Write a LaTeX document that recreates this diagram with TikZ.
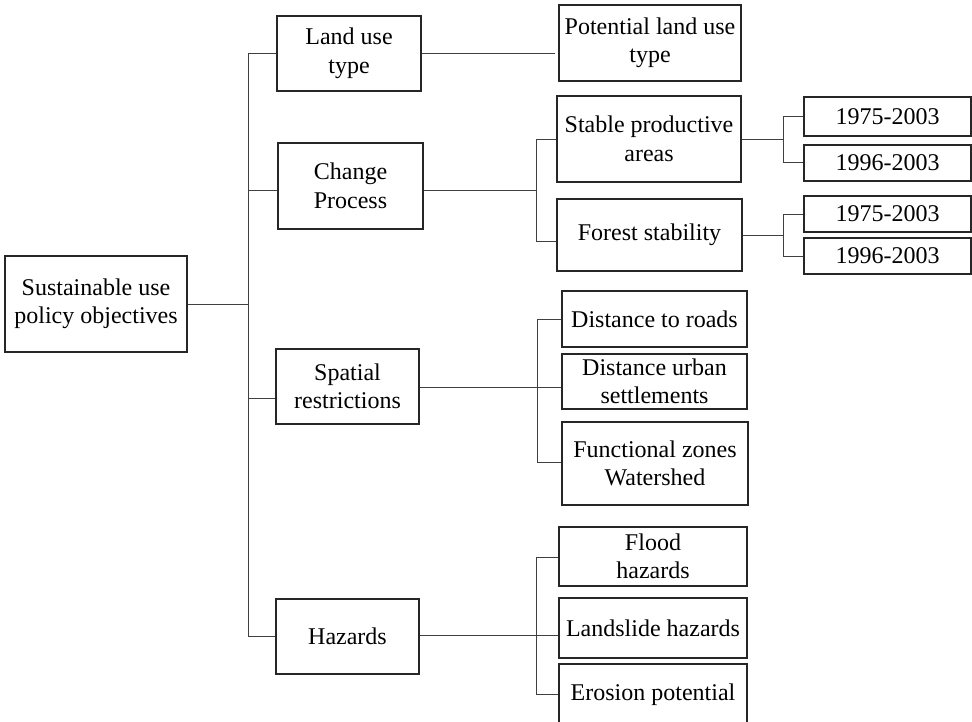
\documentclass[tikz,border=0pt]{standalone}
\usepackage{fontspec}
\setmainfont{Liberation Serif}
\begin{document}
\begin{tikzpicture}[x=1pt,y=-1pt,
  box/.style={draw=black!85, line width=1.1pt, inner sep=2pt, align=center,
    font=\fontsize{24}{28.5}\selectfont},
  link/.style={draw=black!75, line width=1pt}]
% canvas
\fill[white] (0,0) rectangle (972,721);
\useasboundingbox (0,0) rectangle (972,721);

% level 0
\node[box, minimum width=182pt, minimum height=96pt] (root) at (96,304) {Sustainable use\\policy objectives};

% level 1
\node[box, minimum width=144pt, minimum height=75pt] (lut) at (349,53.5) {Land use\\type};
\node[box, minimum width=145pt, minimum height=86pt] (chg) at (350.5,186) {Change\\Process};
\node[box, minimum width=143pt, minimum height=75pt] (spa) at (347.5,386.5) {Spatial\\restrictions};
\node[box, minimum width=143pt, minimum height=75pt] (haz) at (347.5,636.5) {Hazards};

% level 2
\node[box, minimum width=182pt, minimum height=76pt] (pot) at (650,43) {Potential land use\\type};
\node[box, minimum width=184pt, minimum height=86pt] (stab) at (649,139) {Stable productive\\areas};
\node[box, minimum width=185pt, minimum height=72pt] (fst) at (649.5,235) {Forest stability};
\node[box, minimum width=185pt, minimum height=56pt] (road) at (654.5,319) {Distance to roads};
\node[box, minimum width=185pt, minimum height=55pt] (urb) at (654.5,381.5) {Distance urban\\settlements};
\node[box, minimum width=186pt, minimum height=83pt] (fun) at (655,463.5) {Functional zones\\Watershed};
\node[box, minimum width=188pt, minimum height=59pt] (fld) at (653,556.5) {Flood\\hazards};
\node[box, minimum width=188pt, minimum height=60pt] (lsl) at (653,628) {Landslide hazards};
\node[box, minimum width=188pt, minimum height=62pt] (ero) at (653,695) {Erosion potential};

% level 3
\node[box, minimum width=167pt, minimum height=39pt] (sa) at (887.5,116.5) {1975-2003};
\node[box, minimum width=167pt, minimum height=36pt] (sb) at (887.5,163) {1996-2003};
\node[box, minimum width=167pt, minimum height=36pt] (fa) at (887.5,214) {1975-2003};
\node[box, minimum width=167pt, minimum height=36pt] (fb) at (887.5,256) {1996-2003};

% junction points of the bracket connectors
\coordinate (j0) at (248,304);
\coordinate (j0a) at (248,53);
\coordinate (j0b) at (248,190);
\coordinate (j0c) at (248,398);
\coordinate (j0d) at (248,636);
\coordinate (lutEnd) at (555,53);
\coordinate (jc) at (536,190);
\coordinate (jca) at (536,139);
\coordinate (jcb) at (536,241);
\coordinate (js) at (783,139);
\coordinate (jsa) at (783,116);
\coordinate (jsb) at (783,162);
\coordinate (jf) at (783,235);
\coordinate (jfa) at (783,214);
\coordinate (jfb) at (783,256);
\coordinate (jr) at (537,387);
\coordinate (jra) at (537,319);
\coordinate (jrb) at (537,462);
\coordinate (jh) at (536,635);
\coordinate (jha) at (536,557);
\coordinate (jhb) at (536,694);

% root to level 1
\draw[link] (root.east |- j0) -- (j0);
\draw[link] (j0a) -- (j0d);
\draw[link] (j0a) -- (lut.west |- j0a);
\draw[link] (j0b) -- (chg.west |- j0b);
\draw[link] (j0c) -- (spa.west |- j0c);
\draw[link] (j0d) -- (haz.west |- j0d);

% land use type
\draw[link] (lut.east |- lutEnd) -- (lutEnd);

% change process
\draw[link] (chg.east |- jc) -- (jc);
\draw[link] (jca) -- (jcb);
\draw[link] (jca) -- (stab.west |- jca);
\draw[link] (jcb) -- (fst.west |- jcb);
\draw[link] (stab.east |- js) -- (js);
\draw[link] (jsa) -- (jsb);
\draw[link] (jsa) -- (sa.west |- jsa);
\draw[link] (jsb) -- (sb.west |- jsb);
\draw[link] (fst.east |- jf) -- (jf);
\draw[link] (jfa) -- (jfb);
\draw[link] (jfa) -- (fa.west |- jfa);
\draw[link] (jfb) -- (fb.west |- jfb);

% spatial restrictions
\draw[link] (spa.east |- jr) -- (urb.west |- jr);
\draw[link] (jra) -- (jrb);
\draw[link] (jra) -- (road.west |- jra);
\draw[link] (jrb) -- (fun.west |- jrb);

% hazards
\draw[link] (haz.east |- jh) -- (lsl.west |- jh);
\draw[link] (jha) -- (jhb);
\draw[link] (jha) -- (fld.west |- jha);
\draw[link] (jhb) -- (ero.west |- jhb);
\end{tikzpicture}
\end{document}
